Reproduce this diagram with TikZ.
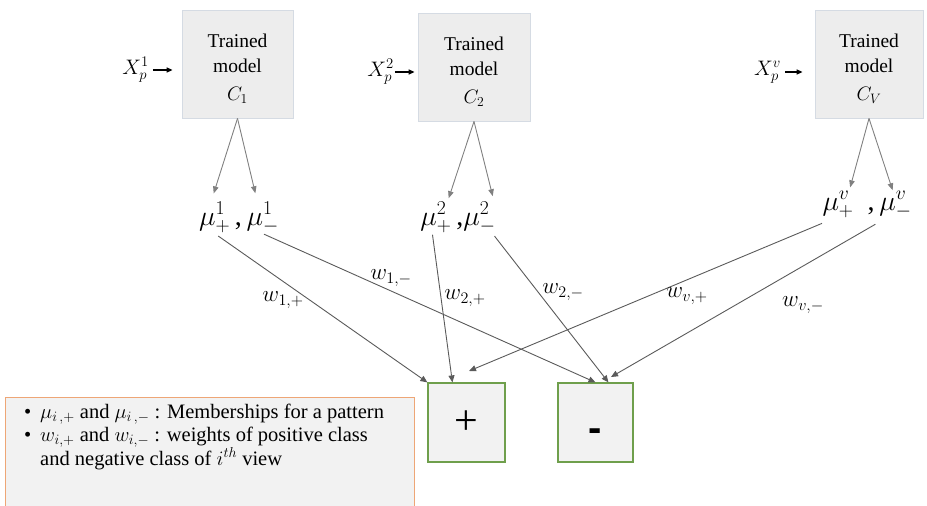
\RequirePackage{fix-cm}
\documentclass[tikz,border=0pt]{standalone}
\usepackage{fontspec}
\setmainfont{Liberation Serif}
\newfontfamily\dashfont{Liberation Sans}
\usetikzlibrary{arrows.meta,calc}

\definecolor{boxfill}{HTML}{EDEDED}
\definecolor{boxedge}{HTML}{D5DBE3}
\definecolor{classfill}{HTML}{F2F2F2}
\definecolor{classedge}{HTML}{6F9F4C}
\definecolor{legedge}{HTML}{EEA676}
\definecolor{splitgray}{HTML}{808080}
\definecolor{wiregray}{HTML}{5A5A5A}

\tikzset{
  modelbox/.style={draw=boxedge, fill=boxfill, line width=0.8pt,
    minimum height=108pt, inner sep=0pt},
  modeltext/.style={align=center, inner sep=0pt,
    font=\fontsize{19.5}{25}\selectfont},
  inlabel/.style={inner sep=0pt, font=\fontsize{21}{24}\selectfont},
  inarrow/.style={-{Triangle[length=6pt,width=5pt]}, line width=1.4pt, draw=black},
  memb/.style={inner sep=0pt, font=\fontsize{28}{30}\selectfont},
  split/.style={-{Triangle[length=7pt,width=5.5pt]}, draw=splitgray, line width=0.9pt},
  wire/.style={-{Triangle[length=7pt,width=6pt]}, draw=wiregray, line width=0.9pt},
  wlabel/.style={inner sep=0pt, font=\fontsize{23}{26}\selectfont},
  classbox/.style={draw=classedge, fill=classfill, line width=1.2pt,
    minimum height=79pt, inner sep=0pt},
  legendbox/.style={draw=legedge, fill=classfill, line width=1.2pt,
    minimum width=409pt, minimum height=130pt, inner sep=0pt},
  legendtext/.style={align=left, inner sep=0pt,
    font=\fontsize{20.5}{22.5}\selectfont},
}

\begin{document}
\begin{tikzpicture}[x=1pt,y=-1pt]
\useasboundingbox (0,0) rectangle (927,506);

% trained models, one per view
\node[modelbox, minimum width=111pt] (m1) at (237.5,64) {};
\node[modelbox, minimum width=112pt] (m2) at (474,67) {};
\node[modelbox, minimum width=108pt] (m3) at (869,64) {};
\node[modeltext] (m1t) at (237.5,69) {Trained\\model\\[3pt]$C_1$};
\node[modeltext] (m2t) at (474,72) {Trained\\model\\[3pt]$C_2$};
\node[modeltext] (m3t) at (869,69) {Trained\\model\\[3pt]$C_V$};

% inputs
\node[inlabel] (x1) at (135.5,70) {$X_p^1$};
\node[inlabel] (x2) at (380.5,72) {$X_p^2$};
\node[inlabel] (x3) at (767.5,72) {$X_p^v$};
\draw[inarrow, shorten <=4pt, shorten >=9pt] (x1.east) -- (x1.east -| m1.west);
\draw[inarrow, shorten <=1pt, shorten >=3pt] (x2.east) -- (x2.east -| m2.west);
\draw[inarrow, shorten <=4pt, shorten >=12pt] (x3.east) -- (x3.east -| m3.west);

% memberships of each view
\node[memb, anchor=base] (mu1) at (239,225) {$\mu_{+}^{1}$\,,\,$\mu_{-}^{1}$};
\node[memb, anchor=base] (mu2) at (458,225) {$\mu_{+}^{2}$\,,$\mu_{-}^{2}$};
\node[memb, anchor=base] (mu3) at (867,210) {$\mu_{+}^{v}$\ \ ,\,$\mu_{-}^{v}$};

% heads of the split arrows and feet of the weighted connections
\coordinate (h1p) at ($(mu1.north west)!0.15!(mu1.north east)$);
\coordinate (h1m) at ($(mu1.north west)!0.73!(mu1.north east)$);
\coordinate (h2p) at ($(mu2.north west)!0.36!(mu2.north east)$);
\coordinate (h2m) at ($(mu2.north west)!0.98!(mu2.north east)$);
\coordinate (h3p) at ($(mu3.north west)!0.30!(mu3.north east)$);
\coordinate (h3m) at ($(mu3.north west)!0.79!(mu3.north east)$);
\coordinate (f1p) at ($(mu1.south west)!0.20!(mu1.south east)$);
\coordinate (f1m) at ($(mu1.south west)!0.80!(mu1.south east)$);
\coordinate (f2p) at ($(mu2.south west)!0.16!(mu2.south east)$);
\coordinate (f2m) at ($(mu2.south west)!0.96!(mu2.south east)$);
\coordinate (f3p) at ($(mu3.south west)!0.12!(mu3.south east)$);
\coordinate (f3m) at ($(mu3.south west)!0.70!(mu3.south east)$);

\draw[split, shorten >=9pt] (m1.south) -- (h1p);
\draw[split, shorten >=9pt] (m1.south) -- (h1m);
\draw[split, shorten >=4pt] (m2.south) -- (h2p);
\draw[split, shorten >=6pt] (m2.south) -- (h2m);
\draw[split, shorten >=4pt] (m3.south) -- (h3p);
\draw[split, shorten >=1pt] (m3.south) -- (h3m);

% class outputs
\node[classbox, minimum width=77pt] (plus) at (466.5,422.5)
  {\fontsize{42}{42}\selectfont +};
\node[classbox, minimum width=75pt] (minus) at (595.5,422.5)
  {\raisebox{-19pt}[0pt][0pt]{\dashfont\bfseries\fontsize{40}{40}\selectfont -}};

\coordinate (pin2) at ($(plus.north west)!0.32!(plus.north east)$);
\coordinate (pinv) at (469,371);
\coordinate (min2) at ($(minus.north west)!0.67!(minus.north east)$);
\coordinate (minv) at (611,377);

% weighted connections
\draw[wire, shorten <=4pt] (f1p) -- (plus.north west);
\draw[wire, shorten <=1pt] (f1m) -- (minus.north);
\draw[wire, shorten <=1pt] (f2p) -- (pin2);
\draw[wire, shorten <=3pt] (f2m) -- (min2);
\draw[wire, shorten <=12pt] (f3p) -- (pinv);
\draw[wire, shorten <=11pt] (f3m) -- (minv);

\node[wlabel] (lw1p) at (283,300) {$w_{1,+}$};
\node[wlabel] (lw1m) at (391,278) {$w_{1,-}$};
\node[wlabel] (lw2p) at (465,298) {$w_{2,+}$};
\node[wlabel] (lw2m) at (563,292) {$w_{2,-}$};
\node[wlabel] (lw3p) at (687,296) {$w_{v,+}$};
\node[wlabel] (lw3m) at (803,305) {$w_{v,-}$};

% legend
\node[legendbox, anchor=north west] (legend) at (5,397) {};
\node[legendtext, anchor=north west] (legtxt) at (24,404) {%
  \makebox[16pt][l]{\textbullet}$\mu_{i\,,+}$ and $\mu_{i\,,-}$ : Memberships for a pattern\\
  \makebox[16pt][l]{\textbullet}$w_{i,+}$ and $w_{i,-}$ : weights of positive class\\
  \hspace*{16pt}and negative class of $i^{th}$ view};
\end{tikzpicture}
\end{document}
